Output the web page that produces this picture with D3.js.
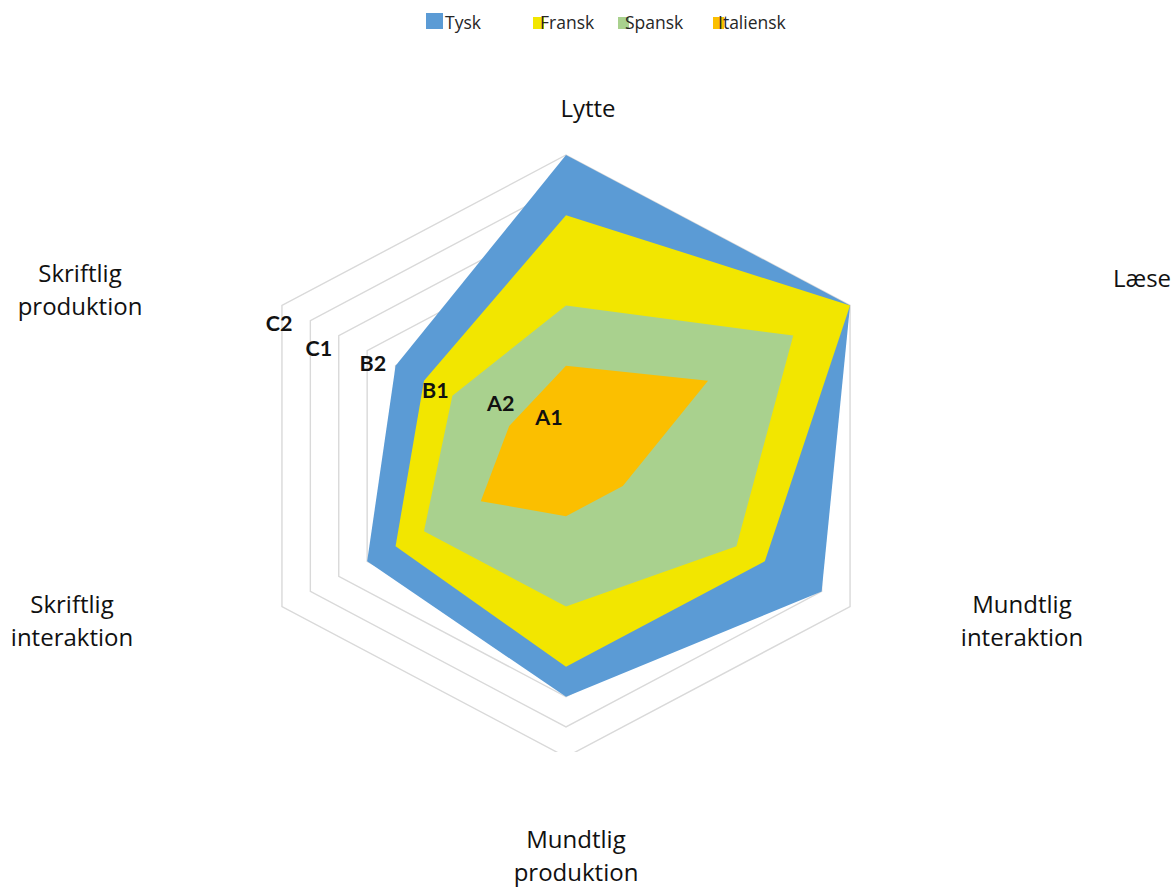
<!DOCTYPE html>
<html>
<head>
<meta charset="utf-8">
<script src="https://cdn.jsdelivr.net/npm/d3@7"></script>
<style>
  html, body { margin: 0; padding: 0; background: #fff; }
  svg { display: block; }
</style>
</head>
<body>
<svg id="chart" width="1174" height="888"></svg>
<script>
// ---- DATA ----
const axes = ["Lytte", "Læse", "Mundtlig interaktion", "Mundtlig produktion", "Skriftlig interaktion", "Skriftlig produktion"];
const seriesNames = ["Tysk", "Fransk", "Spansk", "Italiensk"];
const tysk      = [10, 10, 9, 8, 7, 6];
const fransk    = [8, 10, 7, 7, 6, 5];
const spansk    = [5, 8, 6, 5, 5, 4];
const italiensk = [3, 5, 2, 2, 3, 2];
const gridLevels = [1, 2, 3, 4, 5, 6, 7, 8, 9, 10];
const levelLabels = ["A1", "A2", "B1", "B2", "C1", "C2"];
const levelLabelValues = [0.6, 2.3, 4.6, 6.8, 8.7, 10.1];

// ---- LAYOUT / STYLE ----
const colors = ["#5B9BD5", "#F2E600", "#A9D18E", "#FBBF00"];
const cx = 566, cy = 456;
const rX = d3.scaleLinear().domain([0, 10]).range([0, 328]);
const rY = d3.scaleLinear().domain([0, 10]).range([0, 301]);
const angle = d3.scalePoint().domain(d3.range(axes.length)).range([0, 2 * Math.PI * (axes.length - 1) / axes.length]);

function px(v, i) { return cx + Math.sin(angle(i)) * rX(v); }
function py(v, i) { return cy - Math.cos(angle(i)) * rY(v); }

const svg = d3.select("#chart");

svg.append("clipPath").attr("id", "plotClip")
  .append("rect").attr("x", 0).attr("y", 0).attr("width", 1174).attr("height", 752);

const plot = svg.append("g").attr("clip-path", "url(#plotClip)");

const line = d3.line().x(d => d.x).y(d => d.y).curve(d3.curveLinearClosed);

// grid rings
plot.selectAll("path.grid").data(gridLevels).join("path")
  .attr("class", "grid")
  .attr("d", lv => line(axes.map((a, i) => ({ x: px(lv, i), y: py(lv, i) }))))
  .attr("fill", "none")
  .attr("stroke", "#D9D9D9")
  .attr("stroke-width", 1.4);

// series polygons
const allSeries = [tysk, fransk, spansk, italiensk];
plot.selectAll("path.series").data(allSeries).join("path")
  .attr("class", "series")
  .attr("d", vals => line(vals.map((v, i) => ({ x: px(v, i), y: py(v, i) }))))
  .attr("fill", (d, i) => colors[i])
  .attr("stroke", "none");

// level labels (along upper-left axis)
const levelDy = [-30, -18, 3, 9, 23, 19];
svg.selectAll("text.level").data(levelLabels).join("text")
  .attr("class", "level")
  .attr("x", (d, k) => px(levelLabelValues[k], 5))
  .attr("y", (d, k) => py(levelLabelValues[k], 5) + levelDy[k])
  .attr("text-anchor", "middle")
  .attr("dominant-baseline", "central")
  .attr("font-family", "Lato, 'DejaVu Sans', sans-serif")
  .attr("font-weight", "bold")
  .attr("font-size", 21.5)
  .attr("fill", "#111")
  .text(d => d);

// axis labels
const axisLabelPos = [
  { x: 588, y: 117 },
  { x: 1142, y: 287 },
  { x: 1022, y: 613 },
  { x: 576, y: 848 },
  { x: 72, y: 613 },
  { x: 80, y: 282 }
];
const axisLines = { "Mundtlig interaktion": ["Mundtlig", "interaktion"], "Mundtlig produktion": ["Mundtlig", "produktion"],
  "Skriftlig interaktion": ["Skriftlig", "interaktion"], "Skriftlig produktion": ["Skriftlig", "produktion"] };
const lab = svg.selectAll("text.axis").data(axes).join("text")
  .attr("class", "axis")
  .attr("x", (d, i) => axisLabelPos[i].x)
  .attr("y", (d, i) => axisLabelPos[i].y)
  .attr("text-anchor", "middle")
  .attr("font-family", "'Open Sans', 'Noto Sans', sans-serif")
  .attr("font-size", 24)
  .attr("fill", "#111");
lab.each(function (d, i) {
  const parts = axisLines[d] || [d];
  const t = d3.select(this);
  parts.forEach((p, k) => {
    t.append("tspan").attr("x", axisLabelPos[i].x).attr("dy", k === 0 ? 0 : 33).text(p);
  });
});

// legend
const legendPos = [
  { sx: 426, sy: 13, sw: 17, sh: 16, tx: 445 },
  { sx: 533, sy: 17, sw: 11, sh: 12, tx: 540 },
  { sx: 618, sy: 17, sw: 11, sh: 12, tx: 625 },
  { sx: 713, sy: 17, sw: 11, sh: 12, tx: 718 }
];
const lg = svg.append("g");
lg.selectAll("rect").data(seriesNames).join("rect")
  .attr("x", (d, i) => legendPos[i].sx)
  .attr("y", (d, i) => legendPos[i].sy)
  .attr("width", (d, i) => legendPos[i].sw)
  .attr("height", (d, i) => legendPos[i].sh)
  .attr("fill", (d, i) => colors[i]);
lg.selectAll("text").data(seriesNames).join("text")
  .attr("x", (d, i) => legendPos[i].tx)
  .attr("y", 29)
  .attr("font-family", "'Open Sans', 'Noto Sans', sans-serif")
  .attr("font-size", 17.5)
  .attr("fill", "#262626")
  .text(d => d);
</script>
</body>
</html>
